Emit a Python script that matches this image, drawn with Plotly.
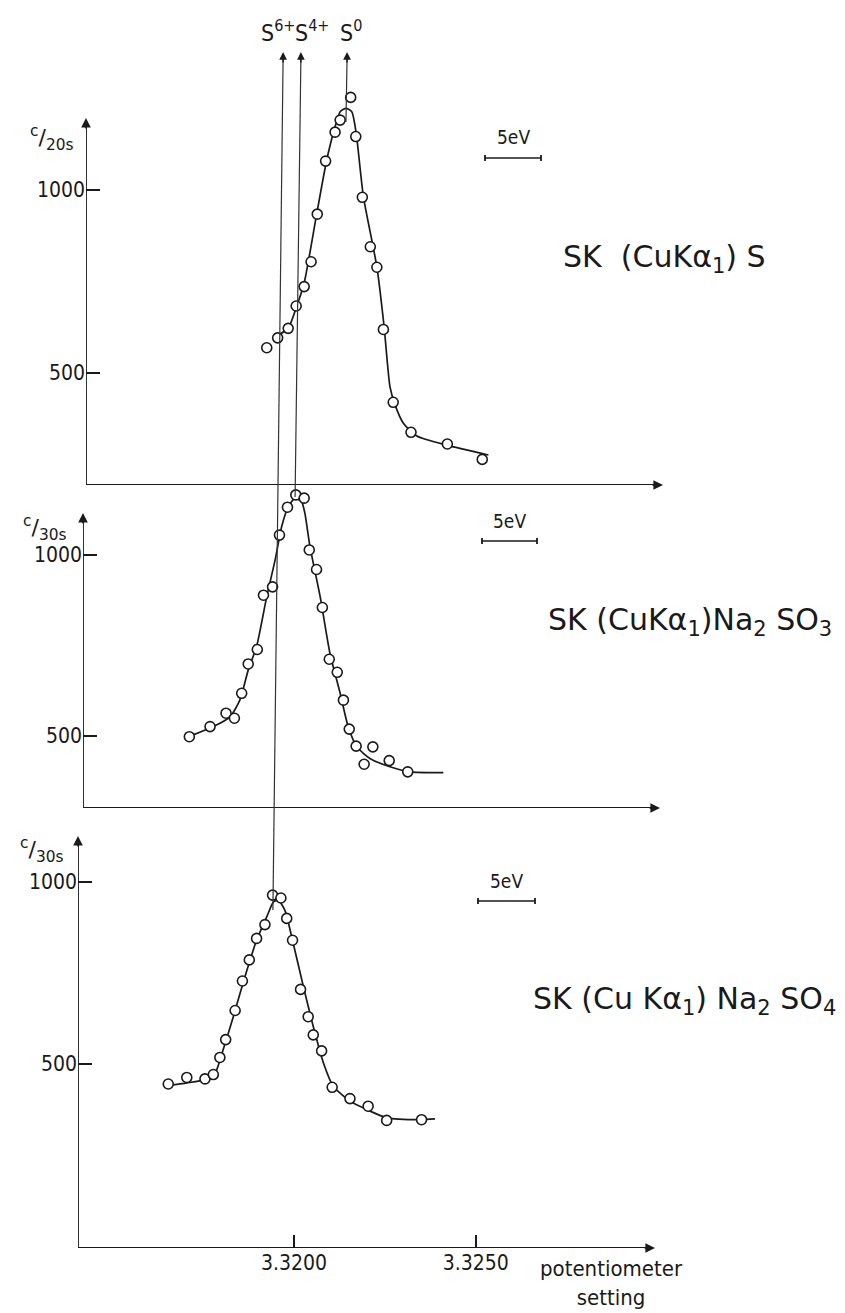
import plotly.graph_objects as go

# ---------------- data ----------------
# Panel 1: SK (CuKa1) S   (counts / 20 s)
s_x = [3.31925, 3.31955, 3.31984, 3.32006, 3.32028, 3.32047, 3.32064, 3.32087, 3.32113,
       3.32127, 3.32156, 3.32170, 3.32188, 3.32210, 3.32228, 3.32246, 3.32273, 3.32322,
       3.32422, 3.32518]
s_y = [569, 596, 622, 683, 736, 804, 934, 1079, 1158, 1191, 1253, 1146, 980, 845, 789, 619,
       420, 338, 306, 264]
s_curve_x = [3.31957, 3.31984, 3.32007, 3.32028, 3.32062, 3.32090, 3.32113, 3.32127, 3.32143,
             3.32159, 3.32171, 3.32191, 3.32228, 3.32248, 3.32264, 3.32278, 3.32301, 3.32338,
             3.32420, 3.32535]
s_curve_y = [604, 622, 681, 746, 932, 1082, 1173, 1214, 1223, 1214, 1156, 982, 790, 626, 463,
             413, 363, 328, 303, 276]

# Panel 2: SK (CuKa1) Na2SO3   (counts / 30 s)
so3_x = [3.31712, 3.31769, 3.31813, 3.31836, 3.31856, 3.31874, 3.31899, 3.31916, 3.31941,
         3.31960, 3.31982, 3.32005, 3.32028, 3.32042, 3.32062, 3.32078, 3.32097, 3.32119,
         3.32136, 3.32152, 3.32171, 3.32193, 3.32217, 3.32262, 3.32313]
so3_y = [498, 526, 563, 549, 618, 699, 739, 889, 912, 1055, 1132, 1166, 1157, 1014, 960, 855,
         712, 676, 599, 519, 472, 422, 470, 432, 401]
so3_curve_x = [3.31723, 3.31778, 3.31824, 3.31851, 3.31874, 3.31897, 3.31925, 3.31948, 3.31966,
               3.31984, 3.32003, 3.32021, 3.32030, 3.32044, 3.32072, 3.32099, 3.32127, 3.32149,
               3.32173, 3.32209, 3.32264, 3.32319, 3.32411]
so3_curve_y = [503, 526, 553, 599, 682, 747, 885, 986, 1078, 1133, 1157, 1147, 1115, 1023, 885,
               728, 618, 526, 470, 438, 415, 401, 399]

# Panel 3: SK (CuKa1) Na2SO4   (counts / 30 s)
so4_x = [3.31654, 3.31705, 3.31755, 3.31778, 3.31796, 3.31812, 3.31838, 3.31858, 3.31877,
         3.31897, 3.31920, 3.31941, 3.31964, 3.31980, 3.31996, 3.32018, 3.32039, 3.32053,
         3.32076, 3.32105, 3.32154, 3.32204, 3.32255, 3.32351]
so4_y = [445, 463, 459, 471, 518, 567, 647, 728, 786, 845, 883, 964, 956, 900, 840, 705, 630,
         580, 536, 436, 405, 384, 345, 347]
so4_curve_x = [3.31654, 3.31705, 3.31755, 3.31783, 3.31805, 3.31833, 3.31865, 3.31897, 3.31925,
               3.31943, 3.31957, 3.31975, 3.31998, 3.32026, 3.32053, 3.32081, 3.32108, 3.32154,
               3.32200, 3.32255, 3.32347, 3.32388]
so4_curve_y = [441, 448, 457, 475, 539, 630, 740, 840, 904, 945, 950, 922, 831, 712, 603, 503,
               439, 398, 375, 352, 347, 349]

y_tick_vals = [500, 1000]
y_tick_text = ["500", "1000"]
x_tick_vals = [3.3200, 3.3250]
x_tick_text = ["3.3200", "3.3250"]

# chemical-shift reference lines
ref_labels = ["S<sup>6+</sup>", "S<sup>4+</sup>", "S<sup>0</sup>"]
ref_x_top = [3.31970, 3.32019, 3.32146]
ref_x_bot = [3.31942, 3.32003, 3.32143]

panel_titles = ["SK\u00a0\u00a0(CuKα<sub>1</sub>)\u00a0S",
                "SK\u00a0(CuKα<sub>1</sub>)Na<sub>2</sub>\u00a0SO<sub>3</sub>",
                "SK\u00a0(Cu\u00a0Kα<sub>1</sub>)\u00a0Na<sub>2</sub>\u00a0SO<sub>4</sub>"]
y_units = ["<sup>c</sup>/<sub>20s</sub>", "<sup>c</sup>/<sub>30s</sub>", "<sup>c</sup>/<sub>30s</sub>"]

# ---------------- layout geometry (pixels) ----------------
W, H = 845, 1313
X_REF_PX, X_REF, X_PER_PX = 294.0, 3.3200, 0.005 / 181.7


def px_to_x(px):
    return X_REF + (px - X_REF_PX) * X_PER_PX


def xp(px):
    return px / W


def yp(py):
    return 1 - py / H


geom = [
    dict(p1000=190, p500=373, base=485, arrow_top=118, dom_top=60, left=86, arrow_right=663,
         title_xy=(664, 258), unit_xy=(52, 138), bar=(485, 541, 158), bar_text_y=137),
    dict(p1000=555, p500=736, base=808, arrow_top=513, dom_top=470, left=83, arrow_right=660,
         title_xy=(690, 621), unit_xy=(45, 528), bar=(482, 537, 541), bar_text_y=521),
    dict(p1000=882, p500=1064, base=1248, arrow_top=836, dom_top=820, left=78, arrow_right=655,
         title_xy=(684, 1000), unit_xy=(42, 850), bar=(478, 535, 901), bar_text_y=881),
]
ref_bottom_px = [910, 497, 122]
ref_label_px = [278, 312, 351]

series = [(s_x, s_y, s_curve_x, s_curve_y),
          (so3_x, so3_y, so3_curve_x, so3_curve_y),
          (so4_x, so4_y, so4_curve_x, so4_curve_y)]

INK = "#1a1a1a"
COND = "DejaVu Sans Condensed, Liberation Sans Narrow, DejaVu Sans"
TICK_FONT = dict(family=COND, size=21, color=INK)
LABEL_FONT = dict(family="DejaVu Sans", size=30, color=INK)

fig = go.Figure()
shapes, annotations = [], []
layout_axes = {}

for i, (g, (px_, py_, cx_, cy_)) in enumerate(zip(geom, series)):
    sfx = "" if i == 0 else str(i + 1)
    xa, ya = "x" + sfx, "y" + sfx
    yscale = 500.0 / (g["p500"] - g["p1000"])

    def yv(py, g=g, yscale=yscale):
        return 500 + (g["p500"] - py) * yscale

    fig.add_trace(go.Scatter(x=cx_, y=cy_, mode="lines", line=dict(color=INK, width=1.7, shape="spline",
                                                                    smoothing=0.6),
                             xaxis=xa, yaxis=ya, hoverinfo="skip", showlegend=False))
    fig.add_trace(go.Scatter(x=px_, y=py_, mode="markers",
                             marker=dict(symbol="circle", size=10, color="white", line=dict(color=INK, width=1.6)),
                             xaxis=xa, yaxis=ya, showlegend=False, cliponaxis=False))

    xaxis = dict(domain=[xp(g["left"]), 1.0], range=[px_to_x(g["left"]), px_to_x(W)],
                 showgrid=False, zeroline=False, showline=False, anchor=ya)
    if i == 2:
        xaxis.update(tickmode="array", tickvals=x_tick_vals, ticktext=x_tick_text, ticks="inside",
                     ticklen=13, tickwidth=1.5, tickcolor=INK, tickfont=dict(TICK_FONT, size=21))
    else:
        xaxis.update(showticklabels=False, ticks="")
    yaxis = dict(domain=[yp(g["base"]), yp(g["dom_top"])], range=[yv(g["base"]), yv(g["dom_top"])],
                 showgrid=False, zeroline=False, showline=False, anchor=xa,
                 tickmode="array", tickvals=y_tick_vals, ticktext=y_tick_text, ticks="inside",
                 ticklen=14, tickwidth=1.5, tickcolor=INK, tickfont=TICK_FONT)
    layout_axes["xaxis" + sfx] = xaxis
    layout_axes["yaxis" + sfx] = yaxis

    x_left = px_to_x(g["left"])
    # axes lines
    shapes.append(dict(type="line", xref=xa, yref=ya, x0=x_left, x1=x_left, y0=yv(g["base"]),
                       y1=yv(g["arrow_top"] + 6), line=dict(color=INK, width=1.8)))
    shapes.append(dict(type="line", xref=xa, yref=ya, x0=x_left, x1=px_to_x(g["arrow_right"] - 6),
                       y0=yv(g["base"]), y1=yv(g["base"]), line=dict(color=INK, width=1.8)))
    # arrow heads
    annotations.append(dict(xref=xa, yref=ya, x=x_left, y=yv(g["arrow_top"]), text="", showarrow=True,
                            arrowhead=2, arrowsize=1.2, arrowwidth=1.6, arrowcolor=INK, ax=0, ay=12,
                            standoff=0))
    annotations.append(dict(xref=xa, yref=ya, x=px_to_x(g["arrow_right"]), y=yv(g["base"]), text="",
                            showarrow=True, arrowhead=2, arrowsize=1.2, arrowwidth=1.6, arrowcolor=INK,
                            ax=-12, ay=0, standoff=0))
    # unit label
    annotations.append(dict(xref="paper", yref="paper", x=xp(g["unit_xy"][0]), y=yp(g["unit_xy"][1]),
                            text=y_units[i], showarrow=False, font=dict(family="DejaVu Sans", size=22, color=INK),
                            xanchor="center", yanchor="middle"))
    # sample label
    annotations.append(dict(xref="paper", yref="paper", x=xp(g["title_xy"][0]), y=yp(g["title_xy"][1]),
                            text=panel_titles[i], showarrow=False, font=LABEL_FONT,
                            xanchor="center", yanchor="middle"))
    # 5 eV scale bar
    bx0, bx1, by = g["bar"]
    shapes.append(dict(type="line", xref="paper", yref="paper", x0=xp(bx0), x1=xp(bx1), y0=yp(by), y1=yp(by),
                       line=dict(color=INK, width=1.5)))
    for bx in (bx0, bx1):
        shapes.append(dict(type="line", xref="paper", yref="paper", x0=xp(bx), x1=xp(bx), y0=yp(by - 3),
                           y1=yp(by + 3), line=dict(color=INK, width=1.8)))
    annotations.append(dict(xref="paper", yref="paper", x=xp((bx0 + bx1) / 2), y=yp(g["bar_text_y"]),
                            text="5eV", showarrow=False, font=dict(TICK_FONT, size=19),
                            xanchor="center", yanchor="middle"))

# reference lines with arrows at the top
TOP_PX = 52
for lab, xt, xb, yb, lx in zip(ref_labels, ref_x_top, ref_x_bot, ref_bottom_px, ref_label_px):
    shapes.append(dict(type="line", xref="x", yref="paper", x0=xt, x1=xb, y0=yp(TOP_PX + 6), y1=yp(yb),
                       line=dict(color="#333333", width=1.2)))
    annotations.append(dict(xref="x", yref="paper", x=xt, y=yp(TOP_PX), text="", showarrow=True,
                            arrowhead=2, arrowsize=1.1, arrowwidth=1.4, arrowcolor=INK, ax=0, ay=12,
                            standoff=0))
    annotations.append(dict(xref="paper", yref="paper", x=xp(lx), y=yp(31), text=lab, showarrow=False,
                            font=dict(family=COND, size=23, color=INK),
                            xanchor="center", yanchor="middle"))

# x axis caption
annotations.append(dict(xref="paper", yref="paper", x=xp(611), y=yp(1283),
                        text="potentiometer<br>setting", showarrow=False, font=dict(TICK_FONT, size=22),
                        xanchor="center", yanchor="middle", align="center"))

fig.update_layout(width=W, height=H, autosize=False, margin=dict(l=0, r=0, t=0, b=0),
                  paper_bgcolor="white", plot_bgcolor="rgba(0,0,0,0)",
                  shapes=shapes, annotations=annotations, showlegend=False, **layout_axes)

fig.write_html("out.html")
